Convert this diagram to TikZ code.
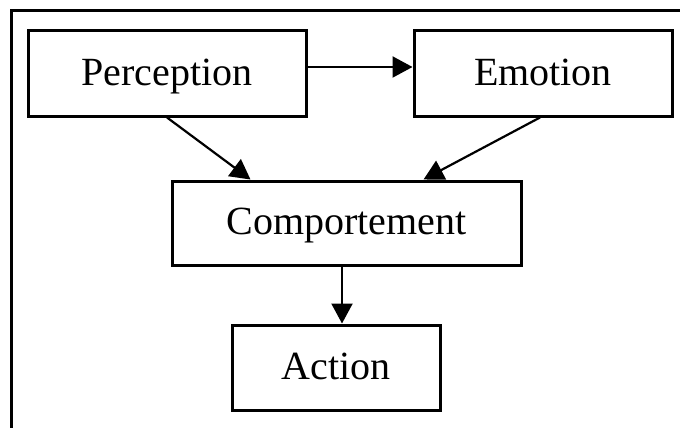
\documentclass[tikz,border=0pt]{standalone}
\usepackage{fontspec}
\setmainfont{Liberation Serif}
\usetikzlibrary{arrows.meta}
\begin{document}
\begin{tikzpicture}[x=1pt,y=-1pt,
  box/.style={draw,line width=3pt,inner sep=0pt,
    text height=31pt,text depth=8pt,
    font=\fontsize{40}{48}\selectfont},
  arr/.style={line width=2.2pt,-{Triangle[length=20pt,width=21pt]}},
  frame/.style={line width=3pt}]
\useasboundingbox (0,0) rectangle (680,428);
% open frame: left and top edges
\coordinate (fb) at (11,430);
\coordinate (fc) at (11,11);
\coordinate (fr) at (682,11);
\draw[frame] (fb) -- (fc) -- (fr);
% boxes
\node[box,minimum width=278pt,minimum height=85pt] (P) at (167,73.5) {Perception};
\node[box,minimum width=258pt,minimum height=85pt] (E) at (543,73.5) {Emotion};
\node[box,minimum width=349pt,minimum height=84pt] (C) at (346.5,223) {Comportement};
\node[box,minimum width=208pt,minimum height=85pt] (A) at (336,367.5) {Action};
% connectors
\draw[arr] ([yshift=6.5pt]P.east) -- ([yshift=6.5pt]E.west);
\draw[arr] (P.south) -- ([xshift=-96pt]C.north);
\draw[arr] ([xshift=-3pt]E.south) -- ([xshift=77pt]C.north);
\draw[arr] ([xshift=6pt]A.north |- C.south) -- ([xshift=6pt]A.north);
\end{tikzpicture}
\end{document}
